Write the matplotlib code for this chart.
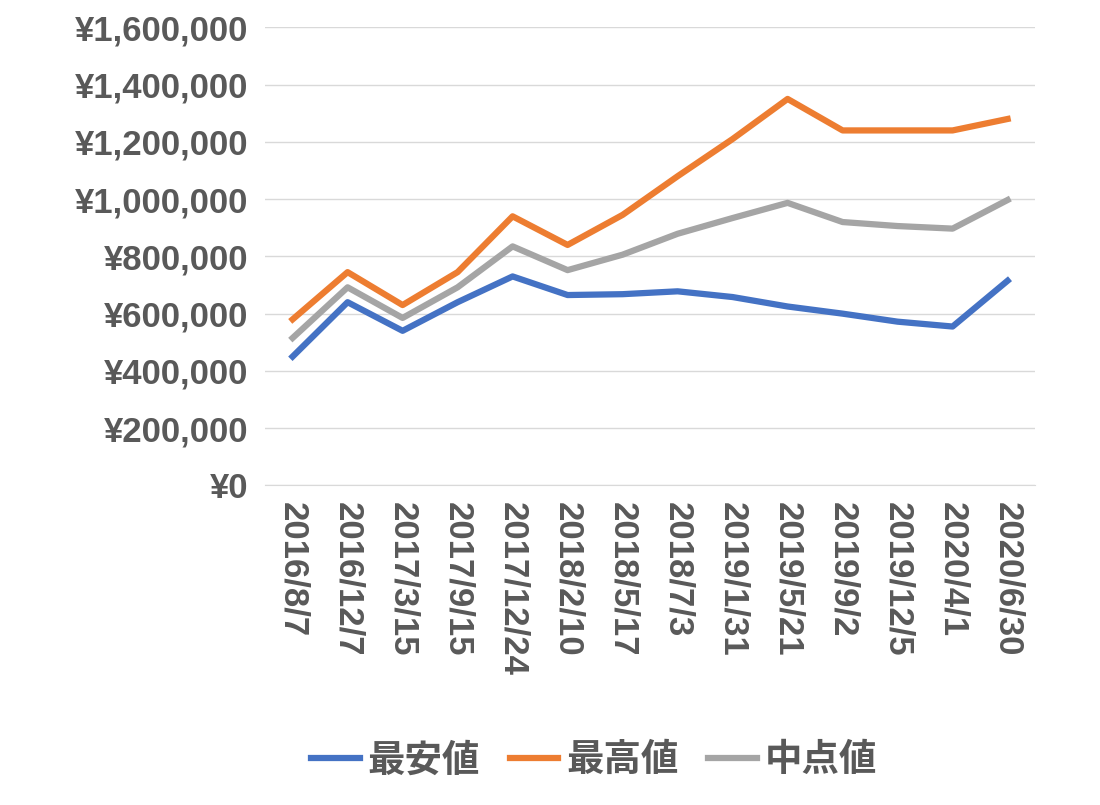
import matplotlib
matplotlib.use("Agg")
import matplotlib.pyplot as plt
from matplotlib.ticker import FuncFormatter

dates = ["2016/8/7","2016/12/7","2017/3/15","2017/9/15","2017/12/24","2018/2/10","2018/5/17",
         "2018/7/3","2019/1/31","2019/5/21","2019/9/2","2019/12/5","2020/4/1","2020/6/30"]
low = [450000,640000,540000,640000,730000,665000,668000,678000,658000,625000,600000,572000,555000,715000]
high = [580000,745000,630000,745000,940000,840000,945000,1080000,1210000,1350000,1240000,1240000,1240000,1280000]
mid = [515000,692000,585000,692000,835000,752000,806000,879000,934000,987000,920000,906000,897000,997000]

plt.rcParams["font.family"] = ["Noto Sans CJK JP"]
fig = plt.figure(figsize=(11, 8.05), dpi=100)
ax = fig.add_axes([0.241, 0.397, 0.700, 0.569])
x = range(len(dates))
ax.plot(x, low, color="#4472C4", lw=4.5, label="最安値")
ax.plot(x, high, color="#ED7D31", lw=4.5, label="最高値")
ax.plot(x, mid, color="#A5A5A5", lw=4.5, label="中点値")
ax.set_ylim(0, 1600000)
ax.set_xlim(-0.5, len(dates) - 0.5)
ax.set_yticks(range(0, 1600001, 200000))
ax.yaxis.set_major_formatter(FuncFormatter(lambda v, p: "¥{:,.0f}".format(v)))
ax.set_xticks(list(x))
ax.set_xticklabels(dates, rotation=270)
for lab in ax.get_xticklabels() + ax.get_yticklabels():
    lab.set_fontsize(25)
    lab.set_fontweight("bold")
    lab.set_color("#595959")
    lab.set_fontfamily("Liberation Sans")
ax.grid(axis="y", color="#D9D9D9", lw=1)
ax.set_axisbelow(True)
for s in ax.spines.values():
    s.set_visible(False)
ax.spines["bottom"].set_visible(True)
ax.spines["bottom"].set_color("#D9D9D9")
ax.tick_params(length=0, pad=12)
fig.legend(loc="lower center", bbox_to_anchor=(0.54, -0.01), ncol=3, frameon=False,
           prop={"size": 27, "weight": "bold"}, labelcolor="#595959", handlelength=1.3,
           columnspacing=0.8, handletextpad=0.2)
fig.savefig("out.png", dpi=100)
